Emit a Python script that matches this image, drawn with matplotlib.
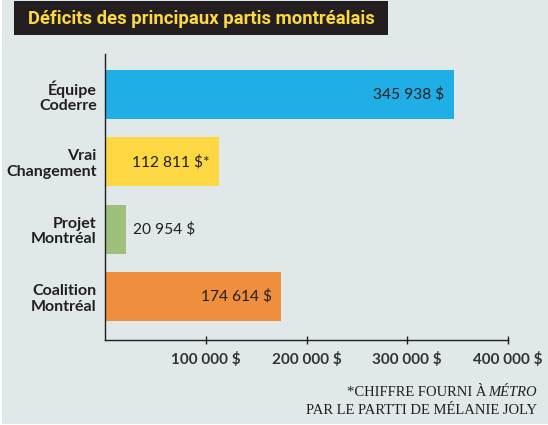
import matplotlib.pyplot as plt
from matplotlib.patches import Rectangle

# données
partis = ["Équipe\nCoderre", "Vrai\nChangement", "Projet\nMontréal", "Coalition\nMontréal"]
deficits = [345938, 112811, 20954, 174614]
etiquettes = ["345 938 $", "112 811 $*", "20 954 $", "174 614 $"]
couleurs = ["#1fafe6", "#fdd843", "#9dc17b", "#ef8e3c"]
ticks_x = [100000, 200000, 300000, 400000]
ticks_lbl = ["100 000 $", "200 000 $", "300 000 $", "400 000 $"]

fond = "#e0e8ea"
encre = "#231f20"

fig = plt.figure(figsize=(5.48, 4.25), dpi=100)
fig.patch.set_facecolor("white")
# fond gris-bleu (petite marge blanche à gauche et en bas)
fig.patches.append(Rectangle((2 / 548, 1 / 425), 1, 1, transform=fig.transFigure,
                             facecolor=fond, edgecolor="none", zorder=-2))

# bandeau titre
fig.patches.append(Rectangle((14 / 548, 1 - 35 / 425), 374 / 548, 34 / 425,
                             transform=fig.transFigure, facecolor="#231f20",
                             edgecolor="none", zorder=-1))
fig.text(201 / 548, 1 - 18.5 / 425, "Déficits des principaux partis montréalais",
         ha="center", va="center", color="#fdd843", fontsize=13.3,
         fontweight="bold", family="Roboto", zorder=2)

ax = fig.add_axes([105 / 548, 1 - 340 / 425, 403 / 548, 286 / 425])
ax.set_facecolor("none")
ax.set_zorder(3)

pos = list(range(len(partis)))
ax.barh(pos, deficits, height=0.728, color=couleurs, zorder=2)

ax.set_xlim(0, 400000)
ax.set_ylim(3.646, -0.602)

for i, (v, t) in enumerate(zip(deficits, etiquettes)):
    if v > 60000:
        ax.annotate(t, (v, i), xytext=(-6.5, 0), textcoords="offset points",
                    ha="right", va="center", fontsize=11.2, color=encre,
                    family="Lato")
    else:
        ax.annotate(t, (v, i), xytext=(5, 0), textcoords="offset points",
                    ha="left", va="center", fontsize=11.2, color=encre,
                    family="Lato")

ax.set_yticks(pos)
ax.set_yticklabels(partis, fontsize=11.5, fontweight="bold", color=encre,
                   family="Lato", linespacing=1.15)
ax.tick_params(axis="y", length=0, pad=6)

ax.set_xticks(ticks_x)
ax.set_xticklabels(ticks_lbl, fontsize=11, fontweight="bold", color="#333333",
                   family="Lato")
ax.tick_params(axis="x", length=6, width=1, color=encre, direction="inout", pad=6)

for s in ["top", "right"]:
    ax.spines[s].set_visible(False)
for s in ["left", "bottom"]:
    ax.spines[s].set_color(encre)
    ax.spines[s].set_linewidth(1)

# note
x_droite = 537 / 548
t2 = fig.text(x_droite, 1 - 410 / 425, "PAR LE PARTTI DE MÉLANIE JOLY",
              ha="right", va="center", fontsize=10.5, color=encre,
              family="Liberation Serif")
t_it = fig.text(x_droite, 1 - 392 / 425, "MÉTRO", ha="right", va="center",
                fontsize=10.5, color=encre, family="Liberation Serif", style="italic")
fig.canvas.draw()
bb = t_it.get_window_extent()
fig.text(bb.x0 / fig.bbox.width - 2 / 548, 1 - 392 / 425, "*CHIFFRE FOURNI À",
         ha="right", va="center", fontsize=10.5, color=encre,
         family="Liberation Serif")

fig.savefig("out.png", dpi=100, facecolor=fig.get_facecolor())
